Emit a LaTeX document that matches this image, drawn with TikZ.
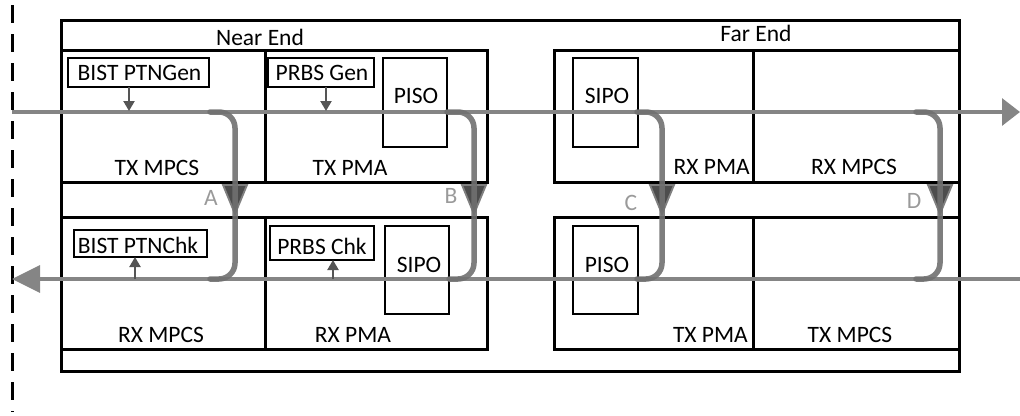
\documentclass[tikz,border=0pt]{standalone}
\usepackage{fontspec}
\setmainfont{Carlito}
\usetikzlibrary{arrows.meta}
\definecolor{sgray}{HTML}{858585}
\definecolor{lgray}{HTML}{707070}
\definecolor{tfill}{HTML}{4D4D4D}
\definecolor{tedge}{HTML}{808080}
\definecolor{lettergray}{HTML}{9A9A9A}
\definecolor{smallarr}{HTML}{555555}
\begin{document}
\begin{tikzpicture}[x=1pt,y=-1pt,
  box/.style={draw=black,line width=3pt,anchor=north west,inner sep=0pt,outer sep=0pt},
  ibox/.style={draw=black,line width=2.8pt,anchor=north west,inner sep=0pt,outer sep=0pt},
  lbl/.style={font=\fontsize{23.5}{28}\selectfont,inner sep=0pt,anchor=base},
  letter/.style={font=\fontsize{23.5}{28}\selectfont,inner sep=0pt,anchor=base,text=lettergray},
  sig/.style={draw=sgray,line width=3.2pt},
  loopb/.style={draw=lgray,line width=5.5pt,line cap=round,rounded corners=16pt,opacity=0.9},
  tri/.style={draw=tedge,fill=tfill,line width=1.8pt,line join=miter},
  small/.style={draw=smallarr,line width=2.2pt,-{Triangle[length=10pt,width=11pt]}},
]
\useasboundingbox (0,0) rectangle (1020,415);
% dashed boundary
\draw[line width=3pt,dash pattern=on 18pt off 11pt] (12,5) -- (12,412);
% outer frame
\node[box,minimum width=898pt,minimum height=351pt] (frame) at (61,20) {};
% cells
\node[box,minimum width=204pt,minimum height=132pt] (ntxmpcs) at (61,50) {};
\node[box,minimum width=222pt,minimum height=132pt] (ntxpma) at (265,50) {};
\node[box,minimum width=199pt,minimum height=132pt] (frxpma) at (554,50) {};
\node[box,minimum width=206pt,minimum height=132pt] (frxmpcs) at (753,50) {};
\node[box,minimum width=204pt,minimum height=132pt] (nrxmpcs) at (61,217) {};
\node[box,minimum width=222pt,minimum height=132pt] (nrxpma) at (265,217) {};
\node[box,minimum width=199pt,minimum height=132pt] (ftxpma) at (554,217) {};
\node[box,minimum width=206pt,minimum height=132pt] (ftxmpcs) at (753,217) {};
% inner boxes
\node[ibox,minimum width=141pt,minimum height=29pt] (bgen) at (68,58) {};
\node[ibox,minimum width=106pt,minimum height=29pt] (pgen) at (268,58) {};
\node[ibox,minimum width=64pt,minimum height=89pt] (npiso) at (383,58) {};
\node[ibox,minimum width=65pt,minimum height=89pt] (fsipo) at (573,58) {};
\node[ibox,minimum width=133pt,minimum height=27pt] (bchk) at (74,230) {};
\node[ibox,minimum width=104pt,minimum height=34pt] (pchk) at (270,226) {};
\node[ibox,minimum width=64pt,minimum height=88pt] (nsipo) at (385,226) {};
\node[ibox,minimum width=65pt,minimum height=88pt] (fpiso) at (573,226) {};
% texts
\node[lbl] (tnear) at (260,45) {Near End};
\node[lbl] (tfar) at (756,41) {Far End};
\node[lbl] (tbgen) at (139.5,80) {BIST PTNGen};
\node[lbl] (tpgen) at (322,80) {PRBS Gen};
\node[lbl] (tnpiso) at (416,103) {PISO};
\node[lbl] (tfsipo) at (607,103) {SIPO};
\node[lbl] (tbchk) at (138,253) {BIST PTNChk};
\node[lbl] (tpchk) at (322,254) {PRBS Chk};
\node[lbl] (tnsipo) at (419,272) {SIPO};
\node[lbl] (tfpiso) at (607,272) {PISO};
\node[lbl] (l1) at (157,175) {TX MPCS};
\node[lbl] (l2) at (350,175) {TX PMA};
\node[lbl,anchor=base east] (l3) at (750,174) {RX PMA};
\node[lbl] (l4) at (854,174) {RX MPCS};
\node[lbl] (l5) at (161,342) {RX MPCS};
\node[lbl] (l6) at (353,342) {RX PMA};
\node[lbl,anchor=base east] (l7) at (748,342) {TX PMA};
\node[lbl] (l8) at (850,342) {TX MPCS};
% signal lines
\coordinate (tl) at (12,112);
\coordinate (tr) at (1020,112);
\coordinate (bl) at (12,279);
\coordinate (br) at (1020,279);
\draw[sig,-{Triangle[length=18pt,width=27pt]}] (tl) -- (tr);
\draw[sig,-{Triangle[length=28pt,width=27pt]}] (br) -- (bl);
% small arrows
\draw[small] (bgen.south -| 129,0) -- (129,111);
\draw[small] (pgen.south -| 326,0) -- (326,111);
\draw[small] (135,279) -- (bchk.south -| 135,0);
\draw[small] (333,279) -- (pchk.south -| 333,0);
% loopback triangles
\foreach \x/\n in {235/A,474/B,662/C,940/D}{
  \draw[tri] (\x-12,185) -- (\x+12,185) -- (\x,214) -- cycle;
}
% loopbacks
\coordinate (a1) at (210,112); \coordinate (a2) at (210,279);
\coordinate (b1) at (447,112); \coordinate (b2) at (449,279);
\coordinate (c1) at (637,112); \coordinate (c2) at (637,279);
\coordinate (d1) at (916,112); \coordinate (d2) at (916,279);
\draw[loopb] (a1) -- (235,112) -- (235,279) -- (a2);
\draw[loopb] (b1) -- (474,112) -- (474,279) -- (b2);
\draw[loopb] (c1) -- (662,112) -- (662,279) -- (c2);
\draw[loopb] (d1) -- (940,112) -- (940,279) -- (d2);
% letters
\node[letter] (la) at (211,205) {A};
\node[letter] (lb) at (451,203) {B};
\node[letter] (lc) at (631,210) {C};
\node[letter] (ld) at (914,208) {D};
\end{tikzpicture}
\end{document}
